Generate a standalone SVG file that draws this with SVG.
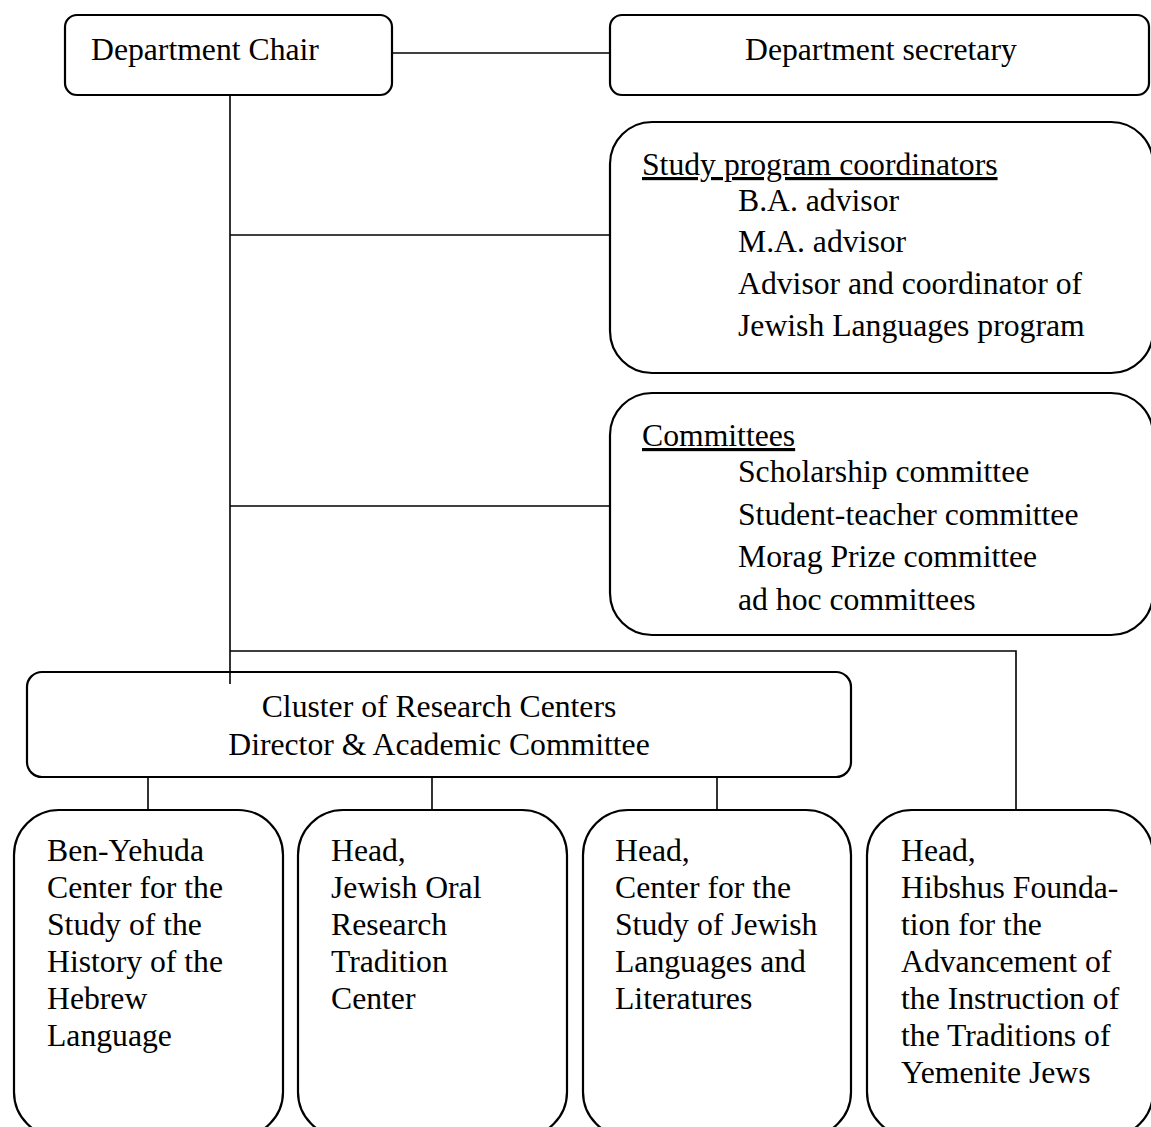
<svg xmlns="http://www.w3.org/2000/svg" width="1151" height="1127" viewBox="0 0 1151 1127">
<style>
.box{fill:#fff;stroke:#000;stroke-width:2.2}
.ln{fill:none;stroke:#000;stroke-width:1.6}
.t{font-family:"Liberation Serif","Times New Roman",serif;font-size:31.7px;fill:#000}
.u{text-decoration:underline}
.c{text-anchor:middle}
</style>
<rect width="1151" height="1127" fill="#fff"/>
<g id="chair">
<rect class="box" x="65" y="15" width="327" height="80" rx="12"/>
<text class="t" x="91" y="60">Department Chair</text>
</g>
<g id="secretary">
<rect class="box" x="610" y="15" width="539" height="80" rx="12"/>
<text class="t" x="745" y="60">Department secretary</text>
</g>
<g id="study">
<rect class="box" x="610" y="122" width="543" height="251" rx="42"/>
<text class="t u" x="642" y="175">Study program coordinators</text>
<text class="t" x="738" y="211">B.A. advisor</text>
<text class="t" x="738" y="252">M.A. advisor</text>
<text class="t" x="738" y="294">Advisor and coordinator of</text>
<text class="t" x="738" y="336">Jewish Languages program</text>
</g>
<g id="committees">
<rect class="box" x="610" y="393" width="543" height="242" rx="42"/>
<text class="t u" x="642" y="446">Committees</text>
<text class="t" x="738" y="482">Scholarship committee</text>
<text class="t" x="738" y="525">Student-teacher committee</text>
<text class="t" x="738" y="567">Morag Prize committee</text>
<text class="t" x="738" y="610">ad hoc committees</text>
</g>
<g id="cluster">
<rect class="box" x="27" y="672" width="824" height="105" rx="15"/>
<text class="t c" x="439" y="717">Cluster of Research Centers</text>
<text class="t c" x="439" y="755">Director &amp; Academic Committee</text>
</g>
<g id="benyehuda">
<rect class="box" x="14" y="810" width="269" height="327" rx="45"/>
<text class="t" x="47" y="861">Ben-Yehuda</text>
<text class="t" x="47" y="898">Center for the</text>
<text class="t" x="47" y="935">Study of the</text>
<text class="t" x="47" y="972">History of the</text>
<text class="t" x="47" y="1009">Hebrew</text>
<text class="t" x="47" y="1046">Language</text>
</g>
<g id="oral">
<rect class="box" x="298" y="810" width="269" height="327" rx="45"/>
<text class="t" x="331" y="861">Head,</text>
<text class="t" x="331" y="898">Jewish Oral</text>
<text class="t" x="331" y="935">Research</text>
<text class="t" x="331" y="972">Tradition</text>
<text class="t" x="331" y="1009">Center</text>
</g>
<g id="languages">
<rect class="box" x="583" y="810" width="268" height="327" rx="45"/>
<text class="t" x="615" y="861">Head,</text>
<text class="t" x="615" y="898">Center for the</text>
<text class="t" x="615" y="935">Study of Jewish</text>
<text class="t" x="615" y="972">Languages and</text>
<text class="t" x="615" y="1009">Literatures</text>
</g>
<g id="hibshus">
<rect class="box" x="867" y="810" width="286" height="327" rx="45"/>
<text class="t" x="901" y="861">Head,</text>
<text class="t" x="901" y="898">Hibshus Founda-</text>
<text class="t" x="901" y="935">tion for the</text>
<text class="t" x="901" y="972">Advancement of</text>
<text class="t" x="901" y="1009">the Instruction of</text>
<text class="t" x="901" y="1046">the Traditions of</text>
<text class="t" x="901" y="1083">Yemenite Jews</text>
</g>
<g id="connectors">
<line class="ln" x1="393" y1="53" x2="609" y2="53"/>
<line class="ln" x1="230" y1="96" x2="230" y2="684"/>
<line class="ln" x1="230" y1="235" x2="609" y2="235"/>
<line class="ln" x1="230" y1="506" x2="609" y2="506"/>
<polyline class="ln" points="230,651 1016,651 1016,809"/>
<line class="ln" x1="148" y1="778" x2="148" y2="809"/>
<line class="ln" x1="432" y1="778" x2="432" y2="809"/>
<line class="ln" x1="717" y1="778" x2="717" y2="809"/>
</g>
</svg>
